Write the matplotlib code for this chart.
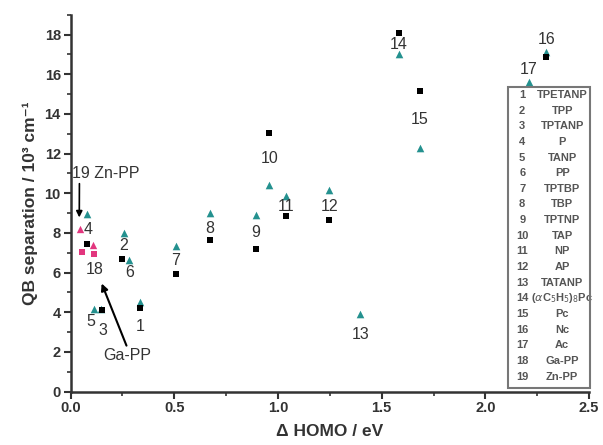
import matplotlib.pyplot as plt
from matplotlib.patches import Rectangle
from matplotlib.ticker import MultipleLocator

plt.rcParams['font.family'] = ['Liberation Sans', 'DejaVu Sans']

# black squares
sq_x = [0.337, 0.25, 0.15, 0.078, 0.506, 0.67, 0.892, 0.959, 1.04, 1.248, 1.581, 1.685, 2.294]
sq_y = [4.19, 6.7, 4.1, 7.44, 5.91, 7.62, 7.2, 13.02, 8.83, 8.63, 18.09, 15.13, 16.85]
# teal triangles
tri_x = [0.337, 0.257, 0.145, 0.081, 0.114, 0.283, 0.506, 0.67, 0.892, 0.956, 1.04, 1.248,
         1.397, 1.581, 1.685, 2.294, 2.209]
tri_y = [4.5, 8.0, 4.14, 8.96, 4.14, 6.65, 7.34, 9.0, 8.88, 10.39, 9.88, 10.14,
         3.9, 17.04, 12.28, 17.12, 15.61]
# pink (Ga-PP / Zn-PP)
pk_sq_x = [0.055, 0.113]
pk_sq_y = [7.05, 6.95]
pk_tri_x = [0.045, 0.11]
pk_tri_y = [8.2, 7.4]

# point number labels
lab_txt = ['1', '2', '3', '4', '5', '6', '7', '8', '9', '10', '11', '12', '13', '14', '15', '16', '17', '18']
lab_x = [0.337, 0.257, 0.158, 0.086, 0.099, 0.283, 0.506, 0.67, 0.892, 0.962, 1.04, 1.248,
         1.397, 1.581, 1.685, 2.294, 2.209, 0.118]
lab_y = [3.27, 7.37, 3.07, 8.18, 3.52, 5.98, 6.62, 8.21, 8.04, 11.73, 9.33, 9.33,
         2.88, 17.51, 13.74, 17.76, 16.25, 6.15]

key_num = [str(i) for i in range(1, 20)]
key_name = ['TPETANP', 'TPP', 'TPTANP', 'P', 'TANP', 'PP', 'TPTBP', 'TBP', 'TPTNP', 'TAP',
            'NP', 'AP', 'TATANP', r'($\alpha$C$_5$H$_5$)$_8$Pc', 'Pc', 'Nc', 'Ac', 'Ga-PP', 'Zn-PP']

teal = '#24918f'
pink = '#e2367e'

fig = plt.figure(figsize=(6.03, 4.45), dpi=100)
ax = fig.add_axes([0.117, 0.12, 0.86, 0.847])

ax.scatter(tri_x, tri_y, marker='^', s=30, color=teal, zorder=3, linewidths=0)
ax.scatter(sq_x, sq_y, marker='s', s=24, color='black', zorder=4, linewidths=0)
ax.scatter(pk_tri_x, pk_tri_y, marker='^', s=28, color=pink, zorder=3, linewidths=0)
ax.scatter(pk_sq_x, pk_sq_y, marker='s', s=20, color=pink, zorder=3, linewidths=0)

for t, x, y in zip(lab_txt, lab_x, lab_y):
    ax.text(x, y, t, fontsize=11.5, color='#333333', ha='center', va='center', zorder=5)

ax.annotate('19 Zn-PP', xy=(0.042, 8.78), xytext=(0.007, 11.0), fontsize=11.5, color='#333333',
            va='center', ha='left',
            arrowprops=dict(arrowstyle='-|>', color='black', lw=1.2, shrinkA=0, shrinkB=0,
                            relpos=(0.11, 0.0), mutation_scale=9))
ax.annotate('Ga-PP', xy=(0.15, 5.45), xytext=(0.275, 1.8), fontsize=11.5, color='#333333',
            va='center', ha='center',
            arrowprops=dict(arrowstyle='-|>', color='black', lw=1.5, shrinkA=0, shrinkB=0,
                            relpos=(0.5, 1.0), mutation_scale=10))

# key box
ax.add_patch(Rectangle((0.844, 0.009), 0.158, 0.798, transform=ax.transAxes, fill=False,
                       edgecolor='#777777', lw=1.5, clip_on=False, zorder=6))
for i in range(19):
    yy = (391.7 - (95 + 15.65 * i)) / 377
    ax.text(0.871, yy, key_num[i], transform=ax.transAxes, fontsize=8, fontweight='bold',
            color='#555555', ha='center', va='center')
    ax.text(0.948, yy, key_name[i], transform=ax.transAxes, fontsize=8, fontweight='bold',
            color='#555555', ha='center', va='center')

ax.set_xlim(0, 2.5)
ax.set_ylim(0, 19)
ax.xaxis.set_major_locator(MultipleLocator(0.5))
ax.xaxis.set_minor_locator(MultipleLocator(0.25))
ax.yaxis.set_major_locator(MultipleLocator(2))
ax.yaxis.set_minor_locator(MultipleLocator(1))
ax.set_xticks([0, 0.5, 1.0, 1.5, 2.0, 2.5])
ax.set_xticklabels(['0.0', '0.5', '1.0', '1.5', '2.0', '2.5'])

for s in ['top', 'right']:
    ax.spines[s].set_visible(False)
for s in ['left', 'bottom']:
    ax.spines[s].set_linewidth(1.8)
    ax.spines[s].set_color('#333333')
ax.tick_params(which='major', length=5, width=1.5, color='#333333', labelsize=10.5, pad=2)
ax.tick_params(which='minor', length=3, width=1.2, color='#333333')
for lbl in ax.get_xticklabels() + ax.get_yticklabels():
    lbl.set_fontweight('bold')
    lbl.set_color('#333333')

ax.set_xlabel('Δ HOMO / eV', fontsize=12.5, fontweight='bold', color='#333333', labelpad=6)
ax.set_ylabel('QB separation / 10³ cm⁻¹', fontsize=12.5, fontweight='bold', color='#333333', labelpad=5)

fig.savefig('out.png', dpi=100)
